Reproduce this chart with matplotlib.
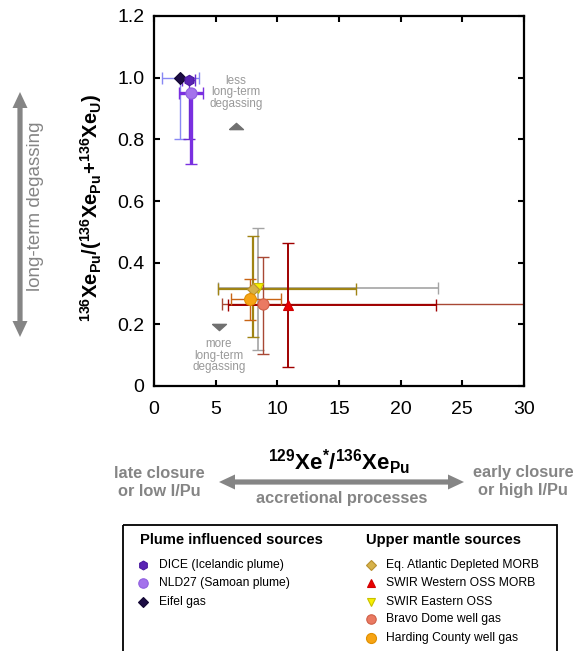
import numpy as np
import matplotlib
matplotlib.use("Agg")
import matplotlib.pyplot as plt
from matplotlib.patches import Polygon, Rectangle
from matplotlib.path import Path

plt.rcParams['font.family'] = ['Liberation Sans', 'DejaVu Sans']
plt.rcParams['mathtext.fontset'] = 'custom'
plt.rcParams['mathtext.rm'] = 'Liberation Sans'
plt.rcParams['mathtext.bf'] = 'Liberation Sans:bold'

W, H = 573, 651

# xenon data: central value plus lower / upper bounds of the error bars
names = ['DICE (Icelandic plume)', 'NLD27 (Samoan plume)', 'Eifel gas',
         'Eq. Atlantic Depleted MORB', 'SWIR Western OSS MORB', 'SWIR Eastern OSS',
         'Bravo Dome well gas', 'Harding County well gas']
x_val = [2.84, 2.97, 2.10, 8.05, 10.84, 8.40, 8.80, 7.79]
x_lo = [2.30, 2.00, 0.62, 5.20, 6.00, 5.20, 5.50, 6.25]
x_hi = [3.33, 4.00, 3.67, 16.40, 22.90, 23.00, 34.0, 10.30]
y_val = [0.991, 0.950, 1.000, 0.315, 0.263, 0.317, 0.266, 0.281]
y_lo = [0.800, 0.720, 0.800, 0.160, 0.060, 0.117, 0.103, 0.214]
y_hi = [0.991, 0.950, 1.000, 0.485, 0.463, 0.512, 0.420, 0.346]

groups = ['Plume influenced sources', 'Upper mantle sources']
group_of = [0, 0, 0, 1, 1, 1, 1, 1]

markers = ['h', 'o', 'D', 'D', '^', 'v', 'o', 'o']
face = ['#5a24b4', '#a472ec', '#1c0c44', '#d6b24a', '#e80000', '#f8f000', '#ea7a62', '#f7a414']
edge = ['#4a1aa0', '#9060e0', '#100630', '#b89030', '#d00000', '#c8c000', '#d06048', '#e09000']
err_col = ['#6a2ad0', '#7a30e0', '#8888f4', '#a08414', '#a00000', '#a4a4a4', '#a84834', '#c86414']
err_lw = [1.0, 2.4, 1.0, 1.6, 1.4, 1.2, 1.0, 1.0]
msize = [7.5, 8, 6.5, 6, 7.5, 7.5, 8, 8.5]

fig = plt.figure(figsize=(W / 100, H / 100), dpi=100)
ax = fig.add_axes([154 / W, 1 - 386 / H, 370 / W, 370 / H])

order = [2, 0, 1, 5, 3, 6, 4, 7]
for i in order:
    ax.errorbar([x_val[i]], [y_val[i]],
                xerr=[[x_val[i] - x_lo[i]], [x_hi[i] - x_val[i]]],
                yerr=[[y_val[i] - y_lo[i]], [y_hi[i] - y_val[i]]],
                fmt='none', ecolor=err_col[i], elinewidth=err_lw[i],
                capsize=4, capthick=1.0, zorder=2)
for i in order:
    ax.plot(x_val[i], y_val[i], linestyle='none', marker=markers[i], ms=msize[i],
            mfc=face[i], mec=edge[i], mew=0.8, zorder=4)

ax.set_xlim(0, 30)
ax.set_ylim(0, 1.2)
ax.set_xticks(np.arange(0, 31, 5))
ax.set_yticks(np.arange(0, 1.21, 0.2))
ax.yaxis.set_major_formatter(plt.FuncFormatter(lambda v, p: '0' if v == 0 else f'{v:.1f}'))
ax.tick_params(direction='in', top=True, right=True, length=4, width=1.5,
               labelsize=14)
ax.tick_params(axis='x', pad=11)
ax.tick_params(axis='y', pad=7)
for s in ax.spines.values():
    s.set_linewidth(1.6)

# flat triangles pointing to the degassing direction
tri_up = Path([(-1, -0.45), (1, -0.45), (0, 0.45), (-1, -0.45)])
tri_dn = Path([(-1, 0.45), (1, 0.45), (0, -0.45), (-1, 0.45)])
ax.plot(6.65, 0.843, marker=tri_up, ms=10, color='#707070', linestyle='none')
ax.plot(5.27, 0.191, marker=tri_dn, ms=10, color='#707070', linestyle='none')
ax.text(6.65, 0.953, 'less\nlong-term\ndegassing', ha='center', va='center',
        fontsize=8.4, color='#999999', linespacing=0.95)
ax.text(5.27, 0.098, 'more\nlong-term\ndegassing', ha='center', va='center',
        fontsize=8.4, color='#999999', linespacing=0.95)

ax.set_xlabel(r'$\mathbf{^{129}Xe^{*}/^{136}Xe_{Pu}}$', fontsize=16, va='center')
ax.xaxis.set_label_coords(0.5, -0.205)
ax.set_ylabel(r'$\mathbf{^{136}Xe_{Pu}/(^{136}Xe_{Pu}\!+\!^{136}Xe_{U})}$', fontsize=14.5,
              va='center')
ax.yaxis.set_label_coords(-0.17, 0.481)

# overlay in pixel units for the arrows, side notes and the legend box
ov = fig.add_axes([0, 0, 1, 1], zorder=5)
ov.set_xlim(0, W)
ov.set_ylim(H, 0)
ov.axis('off')
ov.patch.set_alpha(0)

grey = '#858585'


def double_arrow(x0, y0, x1, y1, shaft=2.6, head_len=16, head_w=7.5):
    d = np.array([x1 - x0, y1 - y0], float)
    L = np.hypot(*d)
    u = d / L
    n = np.array([-u[1], u[0]])
    a = np.array([x0, y0], float)
    b = np.array([x1, y1], float)
    pts = [a,
           a + u * head_len + n * head_w, a + u * head_len + n * shaft,
           b - u * head_len + n * shaft, b - u * head_len + n * head_w,
           b,
           b - u * head_len - n * head_w, b - u * head_len - n * shaft,
           a + u * head_len - n * shaft, a + u * head_len - n * head_w]
    ov.add_patch(Polygon(pts, closed=True, color=grey, lw=0))


double_arrow(219, 482, 464, 482)
double_arrow(20, 92, 20, 337)

ov.text(159, 482, 'late closure\nor low I/Pu', ha='center', va='center',
        fontsize=11.8, fontweight='bold', color=grey, linespacing=1.25)
ov.text(523, 482, 'early closure\nor high I/Pu', ha='center', va='center',
        fontsize=11.8, fontweight='bold', color=grey, linespacing=1.25)
ov.text(342, 498, 'accretional processes', ha='center', va='center',
        fontsize=11.8, fontweight='bold', color=grey)
ov.text(36, 206, 'long-term degassing', ha='center', va='center', rotation=90,
        fontsize=13.5, color=grey)

# legend (box runs past the bottom edge)
ov.add_patch(Rectangle((123, 525), 434, 130, fill=False, ec='black', lw=1.3))
title_x = [140, 366]
mark_x = [143, 371]
text_x = [159, 386]
row_y = [565, 583.3, 601.7, 619.3, 637.7]
for g in range(2):
    ov.text(title_x[g], 540, groups[g], ha='left', va='center',
            fontsize=10.6, fontweight='bold')
    members = [i for i in range(len(names)) if group_of[i] == g]
    for r, i in enumerate(members):
        ov.plot(mark_x[g], row_y[r], linestyle='none', marker=markers[i],
                ms=msize[i] * 0.85, mfc=face[i], mec=edge[i], mew=0.8)
        ov.text(text_x[g], row_y[r], names[i], ha='left', va='center', fontsize=8.7)

fig.savefig('out.png', dpi=100)
